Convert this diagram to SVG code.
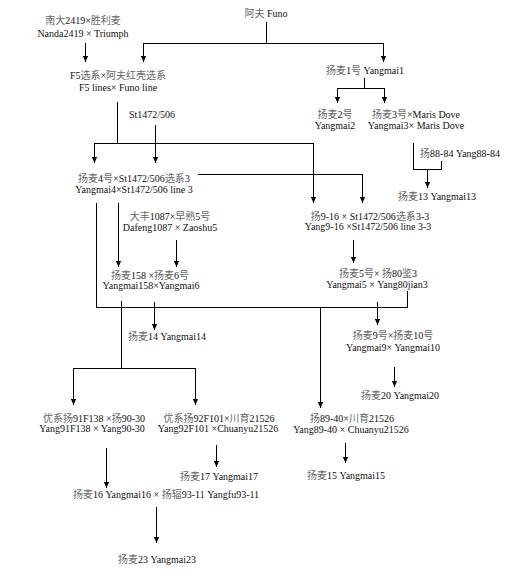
<svg xmlns="http://www.w3.org/2000/svg" width="517" height="579" viewBox="0 0 517 579">
<style>
text{font-family:"Liberation Serif","Noto Sans CJK SC",serif;font-size:10px;fill:#111;text-anchor:middle}
.z{fill:#666}
.c line{stroke:#000;stroke-width:1;fill:none}
.a{marker-end:url(#ah)}
</style>
<defs>
<marker id="ah" viewBox="0 -3 6 6" refX="6" refY="0" markerWidth="6" markerHeight="6" markerUnits="userSpaceOnUse" orient="auto">
<path d="M0,-2.6 L6,0 L0,2.6 z" fill="#000"/>
</marker>
</defs>
<rect width="517" height="579" fill="#fff"/>
<g id="connectors" class="c">
<line x1="266.5" y1="22" x2="266.5" y2="43.5"/>
<line x1="143" y1="43.5" x2="383.5" y2="43.5"/>
<line class="a" x1="143.5" y1="43" x2="143.5" y2="62"/>
<line class="a" x1="383.5" y1="43" x2="383.5" y2="62"/>
<line class="a" x1="85.5" y1="43" x2="85.5" y2="62"/>
<line x1="117.5" y1="102" x2="117.5" y2="143"/>
<line x1="155.5" y1="125" x2="155.5" y2="143"/>
<line x1="94" y1="143.5" x2="313.5" y2="143.5"/>
<line class="a" x1="94.5" y1="143" x2="94.5" y2="163"/>
<line class="a" x1="155.5" y1="143" x2="155.5" y2="163"/>
<line class="a" x1="313.5" y1="143" x2="313.5" y2="203"/>
<line x1="364.5" y1="78" x2="364.5" y2="88.5"/>
<line x1="337" y1="88.5" x2="384.5" y2="88.5"/>
<line class="a" x1="337.5" y1="88" x2="337.5" y2="103"/>
<line class="a" x1="384.5" y1="88" x2="384.5" y2="103"/>
<line x1="413.5" y1="143" x2="413.5" y2="169.5"/>
<line x1="441.5" y1="161" x2="441.5" y2="169.5"/>
<line x1="413" y1="169.5" x2="442" y2="169.5"/>
<line class="a" x1="427.5" y1="169" x2="427.5" y2="188"/>
<line x1="198" y1="174.5" x2="362.5" y2="174.5"/>
<line class="a" x1="362.5" y1="174" x2="362.5" y2="203"/>
<line x1="96.5" y1="203" x2="96.5" y2="307.5"/>
<line x1="96" y1="307.5" x2="407.5" y2="307.5"/>
<line x1="407.5" y1="291" x2="407.5" y2="308"/>
<line class="a" x1="320.5" y1="307" x2="320.5" y2="408"/>
<line class="a" x1="118.5" y1="203" x2="118.5" y2="267"/>
<line class="a" x1="176.5" y1="240" x2="176.5" y2="267"/>
<line class="a" x1="154.5" y1="302" x2="154.5" y2="330"/>
<line x1="121.5" y1="301" x2="121.5" y2="368.5"/>
<line x1="73" y1="368.5" x2="195.5" y2="368.5"/>
<line class="a" x1="73.5" y1="368" x2="73.5" y2="405"/>
<line class="a" x1="195.5" y1="368" x2="195.5" y2="405"/>
<line class="a" x1="353.5" y1="240" x2="353.5" y2="263"/>
<line class="a" x1="377.5" y1="302" x2="377.5" y2="325"/>
<line class="a" x1="394.5" y1="367" x2="394.5" y2="387"/>
<line class="a" x1="345.5" y1="443" x2="345.5" y2="463"/>
<line class="a" x1="106.5" y1="448" x2="106.5" y2="488"/>
<line class="a" x1="216.5" y1="445" x2="216.5" y2="467"/>
<line class="a" x1="156.5" y1="507" x2="156.5" y2="543"/>
</g>
<g id="funo"><text x="266" y="17"><tspan class="z">阿夫</tspan>  Funo</text></g>
<g id="nanda"><text x="83" y="24"><tspan class="z">南大</tspan>2419×<tspan class="z">胜利麦</tspan></text><text x="83" y="37">Nanda2419 × Triumph</text></g>
<g id="f5"><text x="118" y="79">F5<tspan class="z">选系</tspan>×<tspan class="z">阿夫红壳选系</tspan></text><text x="118" y="91">F5 lines× Funo line</text></g>
<g id="st1472"><text x="152" y="118">St1472/506</text></g>
<g id="yangmai1"><text x="365" y="74"><tspan class="z">扬麦</tspan>1<tspan class="z">号</tspan>  Yangmai1</text></g>
<g id="yangmai2"><text x="335" y="118"><tspan class="z">扬麦</tspan>2<tspan class="z">号</tspan></text><text x="335" y="129">Yangmai2</text></g>
<g id="yangmai3"><text x="416" y="118"><tspan class="z">扬麦</tspan>3<tspan class="z">号</tspan>×Maris Dove</text><text x="416" y="129">Yangmai3× Maris Dove</text></g>
<g id="yang8884"><text x="460" y="157"><tspan class="z">扬</tspan>88-84 Yang88-84</text></g>
<g id="yangmai13"><text x="437" y="200"><tspan class="z">扬麦</tspan>13 Yangmai13</text></g>
<g id="yangmai4"><text x="134" y="182"><tspan class="z">扬麦</tspan>4<tspan class="z">号</tspan>×St1472/506<tspan class="z">选系</tspan>3</text><text x="134" y="193">Yangmai4×St1472/506 line 3</text></g>
<g id="dafeng"><text x="170" y="220"><tspan class="z">大丰</tspan>1087×<tspan class="z">早熟</tspan>5<tspan class="z">号</tspan></text><text x="170" y="231">Dafeng1087 × Zaoshu5</text></g>
<g id="yang916"><text x="370" y="220"><tspan class="z">扬</tspan>9-16 × St1472/506<tspan class="z">选系</tspan>3-3</text><text x="368" y="230">Yang9-16 ×St1472/506 line 3-3</text></g>
<g id="yangmai158"><text x="150" y="279"><tspan class="z">扬麦</tspan>158 ×<tspan class="z">扬麦</tspan>6<tspan class="z">号</tspan></text><text x="151" y="289">Yangmai158×Yangmai6</text></g>
<g id="yangmai5"><text x="378" y="277"><tspan class="z">扬麦</tspan>5<tspan class="z">号</tspan>× <tspan class="z">扬</tspan>80<tspan class="z">鉴</tspan>3</text><text x="377" y="288">Yangmai5 × Yang80jian3</text></g>
<g id="yangmai14"><text x="167" y="340"><tspan class="z">扬麦</tspan>14 Yangmai14</text></g>
<g id="yangmai9"><text x="393" y="339"><tspan class="z">扬麦</tspan>9<tspan class="z">号</tspan>×<tspan class="z">扬麦</tspan>10<tspan class="z">号</tspan></text><text x="393" y="351">Yangmai9× Yangmai10</text></g>
<g id="yangmai20"><text x="400" y="399"><tspan class="z">扬麦</tspan>20 Yangmai20</text></g>
<g id="yang91f138"><text x="94" y="422"><tspan class="z">优系扬</tspan>91F138 ×<tspan class="z">扬</tspan>90-30</text><text x="92" y="432">Yang91F138 × Yang90-30</text></g>
<g id="yang92f101"><text x="219" y="422"><tspan class="z">优系扬</tspan>92F101×<tspan class="z">川育</tspan>21526</text><text x="218" y="432">Yang92F101 ×Chuanyu21526</text></g>
<g id="yang8940"><text x="352" y="422"><tspan class="z">扬</tspan>89-40×<tspan class="z">川育</tspan>21526</text><text x="351" y="433">Yang89-40 × Chuanyu21526</text></g>
<g id="yangmai17"><text x="219" y="480"><tspan class="z">扬麦</tspan>17 Yangmai17</text></g>
<g id="yangmai15"><text x="346" y="479"><tspan class="z">扬麦</tspan>15 Yangmai15</text></g>
<g id="yangmai16"><text x="166" y="498"><tspan class="z">扬麦</tspan>16 Yangmai16 × <tspan class="z">扬辐</tspan>93-11 Yangfu93-11</text></g>
<g id="yangmai23"><text x="157" y="563"><tspan class="z">扬麦</tspan>23 Yangmai23</text></g>
</svg>
